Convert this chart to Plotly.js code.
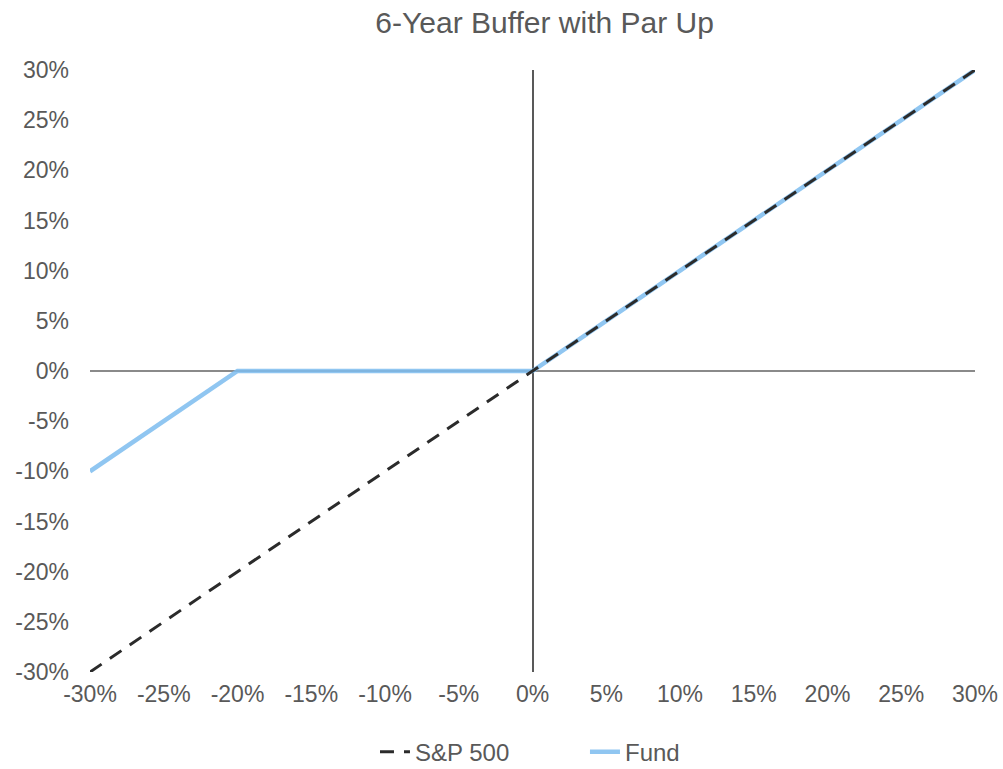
<!DOCTYPE html>
<html>
<head>
<meta charset="utf-8">
<script src="https://cdn.plot.ly/plotly-3.0.1.min.js"></script>
<style>html,body{margin:0;padding:0;background:#fff;}#chart{width:1003px;height:769px;}</style>
</head>
<body>
<div id="chart"></div>
<script>
const sp500Returns = [-30, -25, -20, -15, -10, -5, 0, 5, 10, 15, 20, 25, 30];
const sp500Values  = [-30, -25, -20, -15, -10, -5, 0, 5, 10, 15, 20, 25, 30];
const fundValues   = [-10, -5, 0, 0, 0, 0, 0, 5, 10, 15, 20, 25, 30];
const tickVals  = [-30, -25, -20, -15, -10, -5, 0, 5, 10, 15, 20, 25, 30];
const tickLabels = ['-30%', '-25%', '-20%', '-15%', '-10%', '-5%', '0%', '5%', '10%', '15%', '20%', '25%', '30%'];

const fund = {
  x: sp500Returns, y: fundValues, name: 'Fund', type: 'scatter', mode: 'lines',
  line: {color: 'rgba(125,188,238,0.85)', width: 4.5}, legendrank: 2
};
const sp = {
  x: sp500Returns, y: sp500Values, name: 'S&P 500', type: 'scatter', mode: 'lines',
  line: {color: '#2b2b2b', width: 3, dash: '14px,10px'}, legendrank: 1
};

const fam = 'Liberation Sans, Arial, sans-serif';
const font = {family: fam, color: '#595959', size: 23};
const layout = {
  width: 1003, height: 769,
  margin: {l: 90, r: 28, t: 70, b: 97, autoexpand: false},
  paper_bgcolor: '#fff', plot_bgcolor: '#fff',
  font: font,
  title: {text: '6-Year Buffer with Par Up', x: 0.543, xanchor: 'center', y: 0.971, yanchor: 'middle',
          font: {family: fam, color: '#595959', size: 30}},
  xaxis: {range: [-30, 30], tickmode: 'array', tickvals: tickVals, ticktext: tickLabels, showgrid: false,
          zeroline: true, zerolinecolor: '#595959', zerolinewidth: 2, showline: false, automargin: false,
          ticks: '', tickfont: font, fixedrange: true, ticklabelstandoff: 6},
  yaxis: {range: [-30, 30], tickmode: 'array', tickvals: tickVals, ticktext: tickLabels, showgrid: false,
          zeroline: true, zerolinecolor: '#8a8a8a', zerolinewidth: 1.2, showline: false, automargin: false,
          ticks: '', tickfont: font, fixedrange: true, ticklabelstandoff: 20},
  showlegend: true,
  legend: {orientation: 'h', x: 0.322, xanchor: 'left', y: -0.133, yanchor: 'middle',
           font: {family: fam, color: '#595959', size: 24}, traceorder: 'normal', entrywidth: 165, entrywidthmode: 'pixels'},
};
Plotly.newPlot('chart', [fund, sp], layout, {displayModeBar: false, staticPlot: true});
</script>
</body>
</html>
